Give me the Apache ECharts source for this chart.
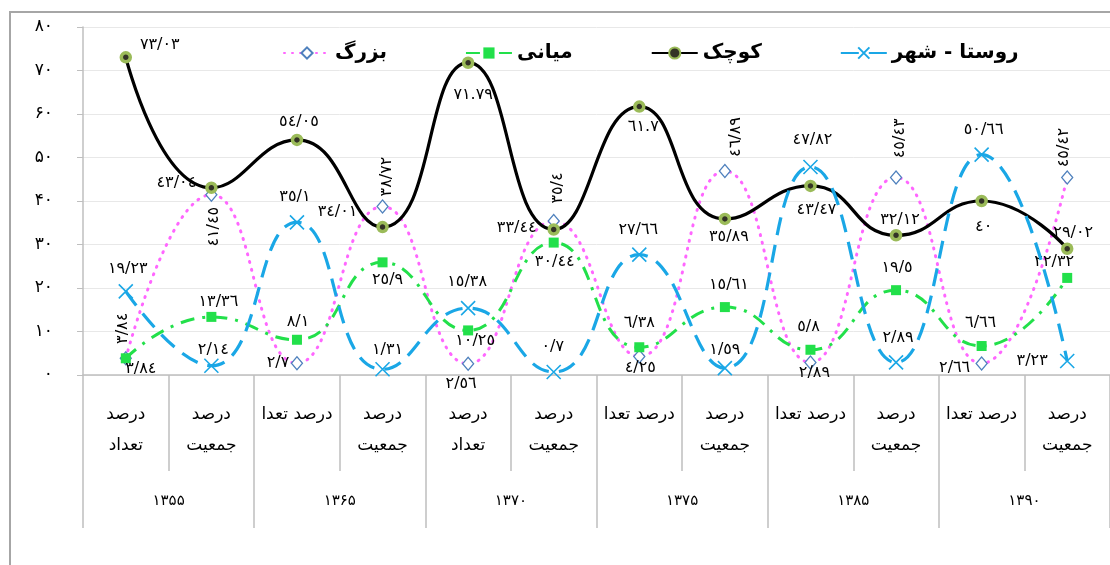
<!DOCTYPE html>
<html>
<head>
<meta charset="utf-8">
<script src="https://cdn.jsdelivr.net/npm/echarts@6/dist/echarts.min.js"></script>
<style>
  html, body { margin: 0; padding: 0; background: #ffffff; }
  #chart { width: 1110px; height: 565px; }
</style>
</head>
<body>
<div id="chart"></div>
<script>
// Category labels (lower level) and census years (upper level)
const categories = [
  'درصد\nتعداد', 'درصد\nجمعیت',
  'درصد تعدا', 'درصد\nجمعیت',
  'درصد\nتعداد', 'درصد\nجمعیت',
  'درصد تعدا', 'درصد\nجمعیت',
  'درصد تعدا', 'درصد\nجمعیت',
  'درصد تعدا', 'درصد\nجمعیت'
];
const years = ['۱۳۵۵', '۱۳۶۵', '۱۳۷۰', '۱۳۷۵', '۱۳۸۵', '۱۳۹۰'];
const yTickLabels = ['۰', '۱۰', '۲۰', '۳۰', '۴۰', '۵۰', '۶۰', '۷۰', '۸۰'];

// Series values (percent)
const rustaShahr = [19.23, 2.14, 35.1, 1.31, 15.38, 0.7, 27.66, 1.59, 47.82, 2.89, 50.66, 3.23];
const kuchak     = [73.03, 43.04, 54.05, 34.01, 71.79, 33.44, 61.7, 35.89, 43.47, 32.12, 40, 29.02];
const miyani     = [3.84, 13.36, 8.1, 25.9, 10.25, 30.44, 6.38, 15.61, 5.8, 19.5, 6.66, 22.32];
const bozorg     = [3.84, 41.45, 2.7, 38.72, 2.56, 35.4, 4.25, 46.89, 2.89, 45.43, 2.66, 45.42];

// Label placement: screen offset of each label from its point, [dx, dy, rotate]
const rustaShahrLabelPos = [[2,-23],[2,-16],[-2,-25],[5,-19],[-1,-26],[-1,-25],[-1,-25],[0,-18],[2,-27],[2,-25],[2,-25],[-35,0]];
const kuchakLabelPos = [[34,-12],[-35,-5],[2,-18],[-45,-15],[5,32],[-37,-2],[4,20],[4,18],[6,24],[4,-15],[2,26],[6,-16]];
const miyaniLabelPos = [[15,11],[7,-15],[1,-18],[5,18],[7,10],[1,19],[0,-24],[4,-22],[-2,-23],[1,-22],[-1,-23],[-13,-16]];
const bozorgLabelPos = [[-3,-30,90],[2,32,90],[-19,0],[4,-30,90],[-7,20],[4,-33,90],[1,11],[11,-34,90],[4,10],[4,-39,90],[-27,4],[-3,-30,90]];
// Points whose label uses a dot as decimal separator
const dotSeparated = { kuchak: [4, 6] };

const FONT = 'DejaVu Sans';
const arabicDigits = '٠١٢٣٤٥٦٧٨٩';
function toArabic(v, sep) {
  return String(v).replace(/[0-9]/g, d => arabicDigits[+d]).replace('.', sep);
}

function buildData(values, pos, key) {
  const dots = dotSeparated[key] || [];
  return values.map((v, i) => {
    const p = pos[i];
    const rot = p[2] || 0;
    // label offset is applied in the label's rotated frame
    const off = rot === 90 ? [-p[1], p[0]] : [p[0], p[1]];
    const sep = dots.indexOf(i) >= 0 ? '.' : '/';
    return {
      value: v,
      label: {
        show: true,
        position: 'inside',
        offset: off,
        rotate: rot,
        align: 'center',
        verticalAlign: 'middle',
        formatter: toArabic(v, sep),
        color: '#000',
        fontFamily: FONT,
        fontSize: 16
      }
    };
  });
}

const chart = echarts.init(document.getElementById('chart'), null, { renderer: 'canvas' });

const option = {
  backgroundColor: '#ffffff',
  animation: false,
  graphic: [{
    type: 'rect',
    shape: { x: 10, y: 12, width: 1300, height: 700 },
    style: { fill: 'none', stroke: '#a6a6a6', lineWidth: 2 },
    silent: true,
    z: -10
  }],
  legend: {
    data: ['بزرگ', 'میانی', 'کوچک', 'روستا - شهر'],
    left: 278,
    top: 38,
    itemWidth: 46,
    itemHeight: 14,
    itemGap: 78,
    textStyle: { fontFamily: FONT, fontSize: 20, fontWeight: 'bold', color: '#000' }
  },
  grid: { left: 83, top: 27, width: 1041, height: 348, containLabel: false },
  xAxis: [{
    type: 'category',
    data: categories,
    position: 'bottom',
    boundaryGap: true,
    axisLine: { show: true, lineStyle: { color: '#bfbfbf', width: 1.5 } },
    axisTick: { show: true, interval: 0, length: 96, lineStyle: { color: '#bfbfbf', width: 1.5 } },
    axisLabel: {
      interval: 0, margin: 24, fontFamily: FONT, fontSize: 17, lineHeight: 31,
      color: '#000', verticalAlign: 'top'
    },
    splitLine: { show: false }
  }, {
    type: 'category',
    data: years,
    position: 'bottom',
    boundaryGap: true,
    axisLine: { show: false },
    axisTick: { show: true, interval: 0, length: 153, lineStyle: { color: '#bfbfbf', width: 1.5 } },
    axisLabel: { interval: 0, margin: 126, fontFamily: FONT, fontSize: 15, color: '#000', verticalAlign: 'middle' },
    splitLine: { show: false }
  }],
  yAxis: {
    type: 'value',
    min: 0,
    max: 80,
    interval: 10,
    axisLine: { show: true, lineStyle: { color: '#bfbfbf', width: 1.5 } },
    axisTick: { show: true, inside: false, length: 6, lineStyle: { color: '#bfbfbf' } },
    axisLabel: {
      margin: 30, fontFamily: FONT, fontSize: 17, color: '#000',
      formatter: v => yTickLabels[Math.round(v / 10)]
    },
    splitLine: { show: true, lineStyle: { color: '#e8e8e8', width: 1 } }
  },
  series: [
    {
      name: 'بزرگ',
      type: 'line',
      smooth: 0.5,
      data: buildData(bozorg, bozorgLabelPos, 'bozorg'),
      symbol: 'diamond',
      symbolSize: [11, 13],
      lineStyle: { color: '#ff66ff', width: 3, type: [1, 7], cap: 'round' },
      itemStyle: { color: '#ffffff', borderColor: '#4f81bd', borderWidth: 1.3 },
      z: 2
    },
    {
      name: 'میانی',
      type: 'line',
      smooth: 0.5,
      data: buildData(miyani, miyaniLabelPos, 'miyani'),
      symbol: 'rect',
      symbolSize: 10,
      lineStyle: { color: '#22e04a', width: 3, type: [14, 8, 3, 8] },
      itemStyle: { color: '#22e04a', borderWidth: 0 },
      z: 3
    },
    {
      name: 'کوچک',
      type: 'line',
      smooth: 0.5,
      data: buildData(kuchak, kuchakLabelPos, 'kuchak'),
      symbol: 'circle',
      symbolSize: 9,
      lineStyle: { color: '#000000', width: 3.2 },
      itemStyle: { color: '#333326', borderColor: '#9bbb59', borderWidth: 3.5 },
      z: 4
    },
    {
      name: 'روستا - شهر',
      type: 'line',
      smooth: 0.5,
      data: buildData(rustaShahr, rustaShahrLabelPos, 'rustaShahr'),
      symbol: 'path://M0,0L10,10M10,0L0,10',
      symbolSize: 14,
      lineStyle: { color: '#1aa7e6', width: 3.2, type: [18, 10] },
      itemStyle: { color: 'none', borderColor: '#1aa7e6', borderWidth: 1.6 },
      z: 5
    }
  ]
};

chart.setOption(option);
</script>
</body>
</html>
